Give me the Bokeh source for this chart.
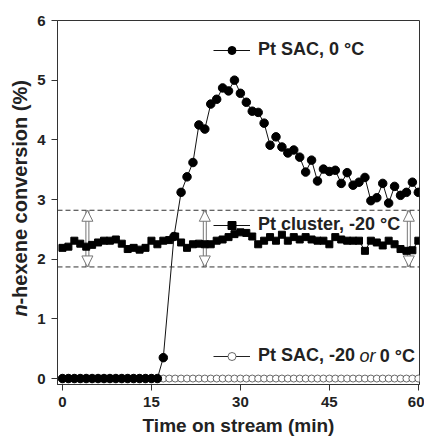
import math
from bokeh.plotting import figure
from bokeh.layouts import row
from bokeh.models import (Range1d, Span, Legend, LegendItem, Label, Arrow,
                          NormalHead, FixedTicker)
from bokeh.core.properties import value
from bokeh.embed import file_html
from bokeh.resources import INLINE

# ---------------- data ----------------
sac0_t = list(range(0, 18)) + [18.8] + list(range(20, 61))
sac0_y = [0.0] * 17 + [0.35, 2.38,
          3.12, 3.38, 3.62, 4.25, 4.18, 4.60, 4.68, 4.87, 4.82, 5.00,
          4.78, 4.63, 4.48, 4.46, 4.28, 3.91, 4.05, 3.88, 3.78, 3.83,
          3.71, 3.46, 3.66, 3.31, 3.51, 3.47, 3.49, 3.27, 3.45, 3.24,
          3.29, 3.37, 2.98, 3.03, 3.27, 2.94, 3.22, 3.07, 3.12, 3.29, 3.12]

cluster_t = list(range(0, 61))
cluster_y = [2.19, 2.21, 2.31, 2.26, 2.21, 2.24, 2.28, 2.31, 2.31, 2.33,
             2.26, 2.17, 2.19, 2.16, 2.19, 2.31, 2.25, 2.31, 2.32, 2.38,
             2.28, 2.19, 2.25, 2.26, 2.25, 2.25, 2.31, 2.33, 2.37, 2.42,
             2.45, 2.44, 2.38, 2.25, 2.31, 2.37, 2.31, 2.41, 2.31, 2.37,
             2.33, 2.37, 2.33, 2.31, 2.31, 2.25, 2.37, 2.33, 2.31, 2.31,
             2.31, 2.14, 2.31, 2.28, 2.23, 2.31, 2.25, 2.17, 2.14, 2.15, 2.31]

sac20_t = list(range(0, 61))
sac20_y = [0.0] * 61

band = [1.87, 2.82]          # dashed reference lines
arrow_x = [4.2, 24.0, 58.4]  # double-arrow positions
x_ticks = [0, 15, 30, 45, 60]
y_ticks = [0, 1, 2, 3, 4, 5, 6]

FONT = "Liberation Sans"
AX = "#333333"
TXT = "#222222"

yr = Range1d(-0.1, 6.0)

# ---- narrow panel holding the y-axis title (italic n + bold rest) ----
pt = figure(width=33, height=438, output_backend="svg", toolbar_location=None,
            x_range=Range1d(0, 1), y_range=yr, x_axis_location=None,
            y_axis_location=None, min_border_left=0, min_border_right=0,
            min_border_top=20, min_border_bottom=49)
pt.outline_line_color = None
pt.grid.visible = False
pt.text(x=[0.606], y=[1.04], text=["n"], angle=math.pi / 2,
        text_font=value(FONT), text_font_style="bold italic",
        text_font_size="20px", text_align="left", text_baseline="middle",
        text_color=TXT)
pt.text(x=[0.606], y=[1.24], text=["-hexene conversion (%)"], angle=math.pi / 2,
        text_font=value(FONT), text_font_style="bold",
        text_font_size="20px", text_align="left", text_baseline="middle",
        text_color=TXT)

# ---- main chart ----
p = figure(width=391, height=438, output_backend="svg", toolbar_location=None,
           x_range=Range1d(-0.84, 60.2), y_range=yr,
           min_border_left=24, min_border_right=5, min_border_top=20,
           min_border_bottom=49)
p.background_fill_color = "white"
p.border_fill_color = "white"
p.outline_line_color = AX
p.outline_line_width = 1
p.xgrid.visible = False
p.ygrid.visible = False

for ax in (p.xaxis[0], p.yaxis[0]):
    ax.axis_line_color = AX
    ax.major_tick_line_color = AX
    ax.minor_tick_line_color = None
    ax.major_tick_in = 0
    ax.major_tick_out = 6
    ax.major_label_text_font = FONT
    ax.major_label_text_font_style = "bold"
    ax.major_label_text_font_size = "15px"
    ax.major_label_text_color = TXT
    ax.major_label_standoff = 6

p.xaxis.ticker = FixedTicker(ticks=x_ticks)
p.yaxis.ticker = FixedTicker(ticks=y_ticks)
p.xaxis.axis_label = "Time on stream (min)"
p.xaxis.axis_label_text_font = FONT
p.xaxis.axis_label_text_font_style = "bold"
p.xaxis.axis_label_text_font_size = "19px"
p.xaxis.axis_label_text_color = TXT
p.xaxis.axis_label_standoff = 5

# dashed band lines
for b in band:
    p.add_layout(Span(location=b, dimension="width", line_color=AX,
                      line_dash="5 3", line_width=1))

# double arrows (hollow)
n_ar = len(arrow_x)
p.segment(x0=arrow_x, y0=[band[0]] * n_ar, x1=arrow_x, y1=[band[1]] * n_ar,
          line_color="#777777", line_width=4)
p.segment(x0=arrow_x, y0=[band[0]] * n_ar, x1=arrow_x, y1=[band[1]] * n_ar,
          line_color="white", line_width=2)
for xa in arrow_x:
    for yend in band:
        p.add_layout(Arrow(x_start=xa, y_start=(band[0] + band[1]) / 2, x_end=xa,
                           y_end=yend, line_alpha=0,
                           end=NormalHead(size=11, fill_color="white",
                                          line_color="#777777", line_width=1)))

# series
r3l = p.line(sac20_t, sac20_y, line_color="#222222", line_width=1)
r3m = p.scatter(sac20_t, sac20_y, marker="circle", size=7, fill_color="white",
                line_color="#444444", line_width=0.8)

r2l = p.line(cluster_t, cluster_y, line_color="#111111", line_width=1)
r2m = p.scatter(cluster_t, cluster_y, marker="square", size=7, fill_color="black",
                line_color="black")

r1l = p.line(sac0_t, sac0_y, line_color="#111111", line_width=1)
r1m = p.scatter(sac0_t, sac0_y, marker="circle", size=8.5, fill_color="black",
                line_color="black")


def mk_legend(label, renderers, loc):
    lg = Legend(items=[LegendItem(label=label, renderers=renderers)], location=loc,
                padding=0, margin=0, spacing=0, border_line_alpha=0,
                background_fill_alpha=0, glyph_width=37, glyph_height=20,
                label_standoff=8, label_text_font=FONT, label_text_font_style="bold",
                label_text_font_size="18px", label_text_color=TXT,
                label_height=20)
    p.add_layout(lg, "center")


mk_legend("Pt SAC, 0 \u00b0C", [r1l, r1m], (156, 324))
mk_legend("Pt cluster, -20 \u00b0C", [r2l, r2m], (156, 149))
mk_legend("Pt SAC, -20", [r3l, r3m], (156, 18))

p.add_layout(Label(x=50.1, y=0.38, text="or", text_font=FONT, text_font_style="italic",
                   text_font_size="18px", text_baseline="middle", text_color=TXT))
p.add_layout(Label(x=53.5, y=0.38, text="0 \u00b0C", text_font=FONT, text_font_style="bold",
                   text_font_size="18px", text_baseline="middle", text_color=TXT))

layout = row(pt, p, spacing=0)
open("out.html", "w").write(file_html(layout, INLINE))
